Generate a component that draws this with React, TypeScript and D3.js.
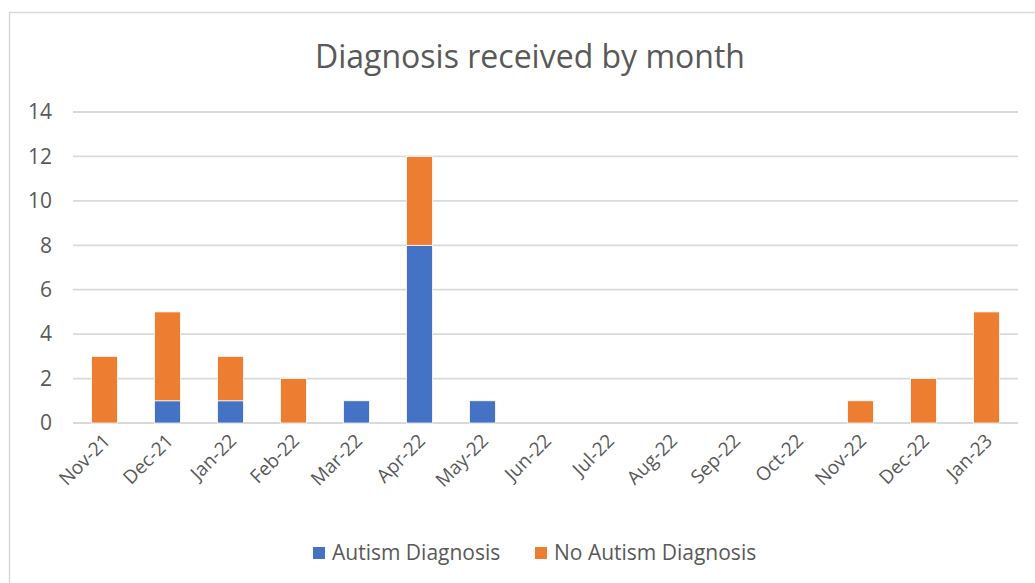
import { useRef, useEffect } from "react";
import * as d3 from "d3";

// Months on the x axis
const months = [
  "Nov-21", "Dec-21", "Jan-22", "Feb-22", "Mar-22", "Apr-22", "May-22", "Jun-22",
  "Jul-22", "Aug-22", "Sep-22", "Oct-22", "Nov-22", "Dec-22", "Jan-23",
];

// Series values
const autism = [0, 1, 1, 0, 1, 8, 1, 0, 0, 0, 0, 0, 0, 0, 0];
const noAutism = [3, 4, 2, 2, 0, 4, 0, 0, 0, 0, 0, 0, 1, 2, 5];

const seriesNames = ["Autism Diagnosis", "No Autism Diagnosis"];
const seriesColors = ["#4472C4", "#ED7D31"];
const yTicks = [0, 2, 4, 6, 8, 10, 12, 14];

const W = 1035;
const H = 583;
const FONT = "'Open Sans', 'Liberation Sans', sans-serif";

const App = () => {
  const svgRef = useRef<SVGSVGElement | null>(null);

  useEffect(() => {
    if (!svgRef.current) return;
    const svg = d3.select(svgRef.current);
    svg.selectAll("*").remove();

    const margin = { top: 112, right: 17, bottom: 160, left: 73 };
    const innerW = W - margin.left - margin.right;
    const innerH = 423 - margin.top;

    // chart border
    svg.append("rect")
      .attr("x", 9.5).attr("y", 12.5)
      .attr("width", 1040).attr("height", 600)
      .attr("fill", "#fff")
      .attr("stroke", "#d9d9d9")
      .attr("stroke-width", 1.5);

    // title
    svg.append("text")
      .attr("x", 530).attr("y", 68)
      .attr("text-anchor", "middle")
      .style("font-family", FONT)
      .style("font-size", "32px")
      .style("fill", "#595959")
      .text("Diagnosis received by month");

    const g = svg.append("g").attr("transform", `translate(${margin.left},${margin.top})`);

    const x = d3.scaleBand<string>().domain(months).range([0, innerW]).paddingInner(0.59).paddingOuter(0.295);
    const y = d3.scaleLinear().domain([0, 14]).range([innerH, 0]);

    // gridlines
    g.selectAll("line.grid")
      .data(yTicks)
      .enter()
      .append("line")
      .attr("class", "grid")
      .attr("x1", 0).attr("x2", innerW)
      .attr("y1", (d) => y(d)).attr("y2", (d) => y(d))
      .attr("stroke", "#d9d9d9")
      .attr("stroke-width", 1.8);

    // y labels
    g.selectAll("text.ytick")
      .data(yTicks)
      .enter()
      .append("text")
      .attr("class", "ytick")
      .attr("x", -21)
      .attr("y", (d) => y(d))
      .attr("dy", "0.35em")
      .attr("text-anchor", "end")
      .style("font-family", FONT)
      .style("font-size", "21px")
      .style("fill", "#595959")
      .text((d) => d);

    // stacked bars
    const rows = months.map((m, i) => ({ month: m, a: autism[i], b: noAutism[i] }));
    const stacked = d3.stack<{ month: string; a: number; b: number }>().keys(["a", "b"])(rows);

    stacked.forEach((layer, li) => {
      g.selectAll(`rect.s${li}`)
        .data(layer)
        .enter()
        .filter((d) => d[1] - d[0] > 0)
        .append("rect")
        .attr("class", `s${li}`)
        .attr("x", (d) => x(d.data.month)!)
        .attr("width", x.bandwidth())
        .attr("y", (d) => y(d[1]))
        .attr("height", (d) => y(d[0]) - y(d[1]))
        .attr("fill", seriesColors[li])
        .attr("stroke", "#fff")
        .attr("stroke-width", 0.75);
    });

    // x labels, rotated
    g.selectAll("text.xtick")
      .data(months)
      .enter()
      .append("text")
      .attr("class", "xtick")
      .attr("transform", (d) => `translate(${x(d)! + x.bandwidth() / 2 + 7},${innerH + 19}) rotate(-45)`)
      .attr("text-anchor", "end")
      .style("font-family", FONT)
      .style("font-size", "19px")
      .style("fill", "#595959")
      .text((d) => d);

    // legend
    const legendX = [313, 535];
    seriesNames.forEach((name, i) => {
      svg.append("rect")
        .attr("x", legendX[i]).attr("y", 547)
        .attr("width", 12).attr("height", 12)
        .attr("fill", seriesColors[i]);
      svg.append("text")
        .attr("x", legendX[i] + 19).attr("y", 553)
        .attr("dy", "0.35em")
        .style("font-family", FONT)
        .style("font-size", "21px")
        .style("fill", "#595959")
        .text(name);
    });
  }, []);

  return (
    <svg
      ref={svgRef}
      width={W}
      height={H}
      style={{ position: "absolute", left: 0, top: 0, background: "#fff" }}
    ></svg>
  );
};

export default App;
